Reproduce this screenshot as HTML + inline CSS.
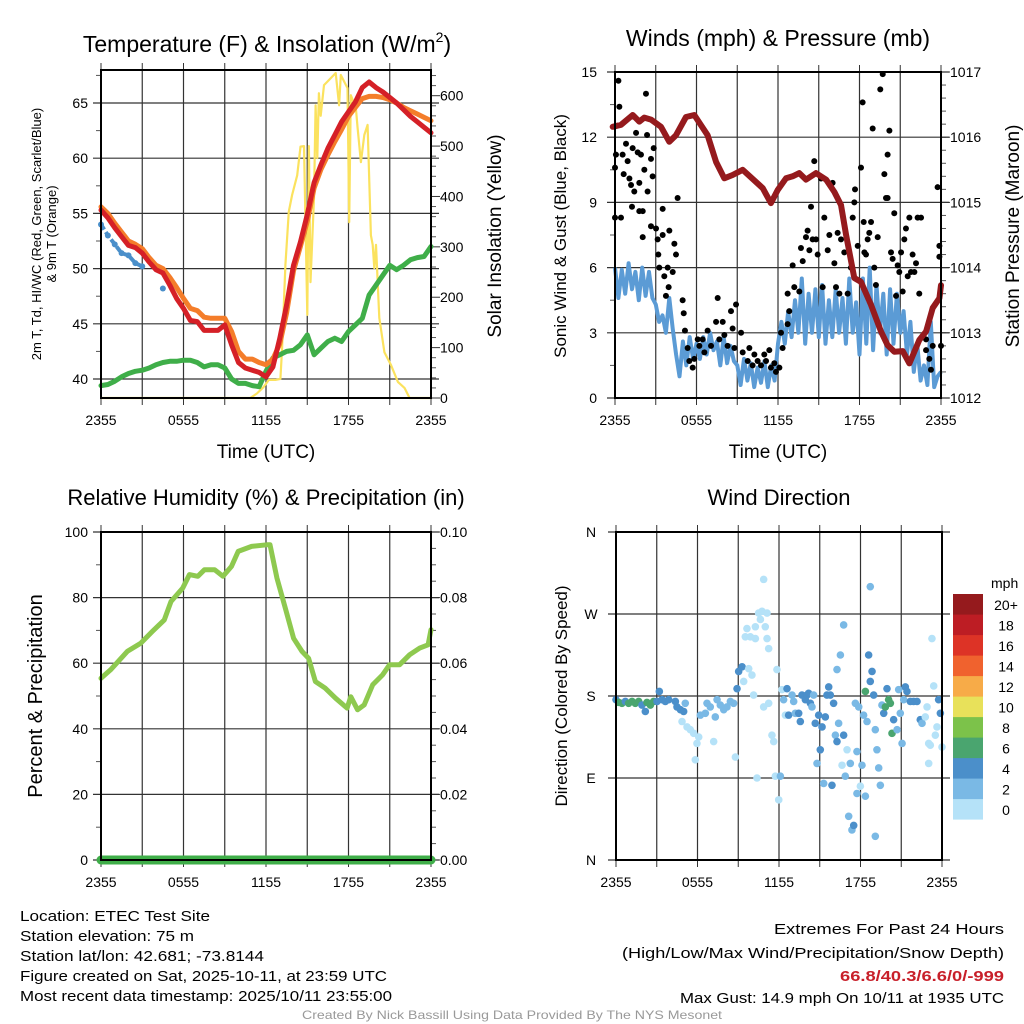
<!DOCTYPE html>
<html><head><meta charset="utf-8"><style>
html,body{margin:0;padding:0;background:#fff;}
svg{display:block;font-family:"Liberation Sans",Arial,sans-serif;}
</style></head><body>
<svg id="root" width="1024" height="1024" viewBox="0 0 1024 1024" xmlns="http://www.w3.org/2000/svg">
<g id="g1"></g>
<g id="g2"></g>
<g id="g3"></g>
<g id="g4"></g>
<g font-size="15" fill="#000">
<text x="20" y="921" textLength="190" lengthAdjust="spacingAndGlyphs">Location: ETEC Test Site</text>
<text x="20" y="941" textLength="174" lengthAdjust="spacingAndGlyphs">Station elevation: 75 m</text>
<text x="20" y="961" textLength="244" lengthAdjust="spacingAndGlyphs">Station lat/lon: 42.681; -73.8144</text>
<text x="20" y="981" textLength="367" lengthAdjust="spacingAndGlyphs">Figure created on Sat, 2025-10-11, at 23:59 UTC</text>
<text x="20" y="1001" textLength="372" lengthAdjust="spacingAndGlyphs">Most recent data timestamp: 2025/10/11 23:55:00</text>
</g>
<g font-size="15">
<text x="1004" y="934" text-anchor="end" textLength="230" lengthAdjust="spacingAndGlyphs">Extremes For Past 24 Hours</text>
<text x="1004" y="958" text-anchor="end" textLength="382" lengthAdjust="spacingAndGlyphs">(High/Low/Max Wind/Precipitation/Snow Depth)</text>
<text x="1004" y="981" text-anchor="end" fill="#c8202a" font-weight="bold" textLength="164" lengthAdjust="spacingAndGlyphs">66.8/40.3/6.6/0/-999</text>
<text x="1004" y="1003" text-anchor="end" textLength="324" lengthAdjust="spacingAndGlyphs">Max Gust: 14.9 mph On 10/11 at 1935 UTC</text>
</g>
<text x="512" y="1019" text-anchor="middle" font-size="12" fill="#999" textLength="420" lengthAdjust="spacingAndGlyphs">Created By Nick Bassill Using Data Provided By The NYS Mesonet</text>
</svg>
<script>
// ---------- DATA ----------
const tempHours = Array.from({length:49},(_,i)=>i*0.5);
const tAir = [55.3,54.6,53.7,52.9,52.1,51.9,51.4,50.6,49.9,49.6,48.5,47.3,46.4,45.3,45.2,44.4,44.4,44.4,44.9,43.1,41.5,41.0,40.8,40.6,40.2,41.1,43.7,46.7,50.3,52.4,54.9,57.8,59.4,60.9,62.1,63.3,64.2,65.1,66.4,66.9,66.4,66.0,65.5,65.0,64.4,63.8,63.3,62.8,62.3];
const t9m = [55.6,55.0,54.1,53.3,52.5,52.2,51.8,51.0,50.3,50.0,49.2,48.3,47.3,46.4,46.2,45.6,45.5,45.5,45.5,44.3,42.5,41.8,41.8,41.5,41.3,41.8,43.2,46.0,49.8,52.0,54.3,57.3,59.0,60.3,61.5,62.6,63.8,64.6,65.4,65.6,65.6,65.5,65.3,65.0,64.6,64.3,64.0,63.7,63.4];
const tDew = [39.4,39.5,39.8,40.2,40.5,40.7,40.8,41.0,41.3,41.5,41.6,41.6,41.7,41.7,41.5,41.1,41.3,41.3,41.0,40.0,39.6,39.6,39.4,39.3,40.7,41.9,42.2,42.5,42.6,43.1,44.0,42.2,42.8,43.4,43.7,43.4,44.3,44.9,45.5,47.6,48.5,49.4,50.3,49.9,50.3,50.8,51.0,51.1,52.0];
const tIndex = [54.0,53.0,52.2,51.4,51.2,50.5,50.2,null,null,48.2];
const solarHours = [0,10.85,11.34,11.83,12.2,12.68,13.05,13.17,13.41,13.66,13.9,14.27,14.51,14.76,15.0,15.12,15.24,15.49,15.61,15.73,15.85,15.98,16.22,16.71,17.07,17.32,17.44,17.93,18.05,18.17,18.54,18.66,18.9,19.15,19.39,19.51,19.63,19.76,19.88,20.0,20.24,20.61,21.1,21.59,22.07,22.44,24];
const solarVals = [0,0,9,22,36,36,38,99,264,370,403,442,499,500,165,500,230,397,581,476,605,560,621,635,645,581,641,615,349,601,575,536,468,522,542,429,323,304,258,304,159,91,65,32,20,0,0];
const pressHours = [-0.17,0.44,1.3,1.79,2.16,2.65,3.39,4.0,4.49,5.23,5.84,6.82,7.44,8.05,8.66,9.4,10.87,11.48,11.98,12.59,13.08,13.57,14.06,14.8,15.54,16.15,16.64,17.01,17.62,18.11,18.85,19.58,20.07,20.56,21.18,21.67,22.4,22.9,23.39,23.88,24.0];
const pressVals = [1016.16,1016.19,1016.34,1016.24,1016.30,1016.27,1016.16,1015.93,1016.03,1016.31,1016.34,1016.03,1015.62,1015.37,1015.42,1015.50,1015.22,1014.99,1015.19,1015.37,1015.40,1015.45,1015.35,1015.45,1015.35,1015.16,1014.96,1014.5,1013.84,1013.78,1013.43,1013.02,1012.81,1012.71,1012.72,1012.53,1012.89,1013.02,1013.38,1013.53,1013.73];
const windVals = [6.0,4.6,5.9,4.8,6.2,5.0,5.8,4.5,6.0,4.7,5.8,4.6,4.3,3.5,3.8,3.0,4.6,3.2,2.0,1.0,2.6,1.5,2.8,1.8,2.5,1.8,2.8,2.0,3.0,2.2,2.6,1.5,2.8,1.6,2.4,1.7,1.5,0.6,1.8,0.8,1.6,0.5,1.4,0.7,1.7,0.5,1.5,0.8,2.5,3.5,2.5,4.0,2.8,4.5,3.0,5.5,2.5,4.8,3.0,5.0,2.8,5.2,2.5,4.5,2.8,5.0,3.0,4.6,2.5,5.5,3.0,4.4,2.0,5.5,2.5,6.0,2.2,5.2,3.0,4.8,2.0,5.0,2.5,4.8,3.0,4.0,2.0,3.5,1.2,2.5,0.8,1.5,0.6,3.5,0.5,1.0,1.2];
const gustHours = [0.25,0.32,0,0.44,0.07,0.56,0,0.81,0.93,0.64,1.06,1.18,1.30,1.42,1.55,1.67,1.79,1.91,2.28,2.36,2.16,2.40,2.65,2.77,2.85,1.25,1.79,2.04,2.04,2.65,3.02,3.14,3.19,3.26,3.51,3.51,3.63,3.75,3.88,4.0,4.25,4.37,4.49,4.61,3.95,4.98,5.06,5.15,5.35,5.47,5.72,5.84,6.09,6.21,6.45,6.58,6.82,7.07,7.44,7.56,7.68,7.93,8.05,8.29,8.54,8.66,8.91,8.79,9.28,9.40,9.77,9.89,10.13,10.26,10.50,10.75,10.99,11.12,11.36,11.48,11.73,11.85,12.10,12.22,12.34,12.71,12.83,12.71,13.08,13.20,13.57,13.69,13.82,14.06,14.18,14.31,14.43,14.55,14.67,14.80,14.92,15.17,15.29,15.41,15.66,15.78,16.02,16.15,16.27,16.39,16.52,16.64,16.88,17.13,17.37,17.50,17.62,17.67,17.87,17.99,18.11,18.23,18.31,18.36,18.48,18.60,18.72,18.85,18.97,19.09,19.21,19.34,19.83,19.95,20.07,20.20,20.32,20.44,20.56,20.69,20.81,20.93,21.06,21.18,21.30,21.42,21.55,21.67,21.79,21.91,22.04,22.16,22.28,22.40,22.53,22.90,22.90,23.14,23.26,23.39,23.75,23.88,23.88,24.0,19.53,19.71,20.07];
const gustVals = [14.6,13.4,8.3,8.3,11.2,11.2,10.6,11.7,10.9,10.3,10.1,9.8,11.5,9.5,12.2,11.3,9.9,11.2,14.0,12.1,10.5,9.5,11.0,10.2,11.5,8.8,8.6,8.6,7.4,7.9,7.8,7.3,6.6,6.0,8.7,7.5,5.6,4.7,6.0,7.7,5.8,7.1,6.6,9.2,5.1,4.5,3.9,3.1,2.3,1.7,1.4,1.8,2.7,2.4,2.7,2.1,3.1,2.4,3.5,4.6,2.7,3.5,2.9,2.4,4.0,3.2,4.3,2.3,3.0,2.1,1.7,2.3,1.5,2.0,1.7,1.5,2.0,1.7,2.2,1.4,1.6,1.2,1.4,3.0,2.3,3.4,4.0,4.8,6.1,5.1,4.9,6.9,6.3,7.4,7.7,6.8,8.8,7.3,10.9,7.3,6.6,10.1,5.1,8.3,6.8,7.5,9.9,6.2,5.1,7.6,4.8,7.3,6.7,4.8,6.0,8.3,9.0,9.6,7.0,5.4,10.6,13.6,8.1,6.7,6.6,7.3,7.6,8.1,12.4,6.0,5.2,7.4,10.3,9.2,11.2,12.3,6.7,6.4,8.5,4.7,6.1,5.8,6.7,4.9,7.3,7.8,5.6,8.3,5.8,6.6,5.8,6.2,8.3,4.8,8.3,2.7,2.2,1.8,1.3,2.4,9.7,7.0,6.5,2.4,14.2,14.9,9.2];
const rhHours = [0,0.7,1.91,2.89,3.74,4.6,5.09,5.94,6.43,7.04,7.53,8.26,8.87,9.49,9.98,10.95,12.05,12.29,12.79,13.4,14.01,14.62,15.1,15.59,16.3,17.07,17.9,18.17,18.66,19.14,19.76,20.49,20.98,21.71,22.45,23.18,23.79,24.0];
const rhVals = [55.4,58,63.6,66.1,69.7,73.2,78.8,82.9,87,86.5,88.5,88.5,86.5,89.5,94.1,95.6,96.1,96.1,86,76.8,67.6,63.6,61.5,54.4,52.4,49.3,46.3,49.8,45.8,47.3,53.4,56.5,59.5,59.5,62.6,64.6,65.6,70.2];
const precipHours = [0,24];
const precipVals = [0,0];
const dirHours = [0,0.2,0.44,0.69,0.93,1.18,1.42,1.67,1.91,2.16,2.28,2.53,2.77,3.02,3.19,3.39,3.63,3.88,4.37,4.49,4.74,4.98,5.1,4.86,5.23,5.47,5.72,5.84,5.96,6.09,6.21,6.58,6.7,6.94,7.19,7.31,7.44,7.68,7.93,8.17,8.42,8.66,8.79,8.91,9.03,9.28,9.4,9.52,9.64,9.77,9.89,10.01,10.13,10.26,10.26,10.38,10.5,10.63,10.75,10.87,10.87,10.99,11.12,11.12,11.24,11.24,11.48,11.61,11.73,11.85,11.98,12.1,12.22,12.34,12.47,12.59,12.71,12.96,13.08,13.2,13.45,13.57,13.69,13.94,14.06,14.18,14.31,14.43,14.55,14.67,14.8,14.92,15.04,15.17,15.29,15.41,15.53,15.66,15.78,15.9,16.02,16.15,16.27,16.27,16.39,16.52,16.64,16.76,16.76,16.88,17.01,17.13,17.25,17.37,17.5,17.62,17.74,17.74,17.87,17.99,18.11,18.23,18.36,18.36,18.48,18.6,18.72,18.72,18.85,18.97,19.09,19.09,19.21,19.34,19.46,19.58,19.71,19.83,19.95,20.07,20.2,20.32,20.44,20.69,20.81,20.93,21.06,21.18,21.3,21.42,21.67,21.91,22.16,22.4,22.53,22.77,22.9,23.02,23.02,23.14,23.26,23.39,23.51,23.63,23.75,23.88,24.0];
const dirVals = [176,173,172,174,172,174,172,174,170,163,173,170,174,174,185,176,174,176,174,168,165,163,172,152,146,143,139,110,128,135,159,161,172,168,130,157,176,170,165,168,174,172,113,188,207,212,196,245,254,210,245,203,181,243,256,90,271,264,273,168,308,256,271,243,232,172,137,130,92,209,66,92,187,176,159,188,159,181,174,161,161,152,181,176,181,183,172,168,181,150,106,159,121,146,84,157,181,190,181,82,172,137,209,130,150,225,104,258,137,92,121,48,106,33,38,172,73,119,168,81,104,159,70,185,152,225,196,300,207,181,143,26,121,101,82,170,161,168,188,176,172,139,154,143,187,161,128,176,190,185,174,174,174,154,150,157,168,128,106,126,243,191,137,146,176,161,124];
const dirSpeed = [5,7,7,5,7,7,7,7,5,5,7,7,7,5,5,5,5,5,5,5,5,5,3,1,1,1,1,1,1,1,3,3,3,3,1,3,3,3,3,3,3,3,1,5,5,5,1,1,1,1,1,1,1,1,1,1,1,1,1,1,1,1,1,1,1,1,1,1,1,1,1,3,1,3,1,5,5,3,3,3,5,5,5,5,5,5,5,3,3,5,3,5,5,5,3,5,5,5,5,5,5,3,3,5,3,3,1,3,5,3,1,3,3,3,5,3,3,3,3,1,3,3,3,7,3,5,5,3,5,5,3,3,3,3,3,3,5,7,5,7,7,7,5,3,3,3,3,3,5,5,5,5,5,5,3,1,1,1,1,1,1,1,1,1,5,5,1];
const xTickLabels = ["2355","0555","1155","1755","2355"];
const dirTickLabels = ["N","E","S","W","N"];
const speedBins = ["0","2","4","6","8","10","12","14","16","18","20+"];
const speedColors = ["#b5e2f8","#7ab9e5","#4b8fca","#4aa56f","#7cc24a","#e8e15a","#f7ab48","#f0622e","#dd3326","#bd1d24","#951a1d"];

// ---------- HELPERS ----------
const NS="http://www.w3.org/2000/svg";
function mk(parent, tag, attrs){const e=document.createElementNS(NS,tag);for(const k in attrs)e.setAttribute(k,attrs[k]);parent.appendChild(e);return e;}
function scale(d0,d1,r0,r1){return v=>r0+(v-d0)*(r1-r0)/(d1-d0);}
function pathFrom(xs,ys,sx,sy){let d="",pen=false;for(let i=0;i<xs.length;i++){if(ys[i]==null){pen=false;continue;}d+=(pen?"L":"M")+sx(xs[i]).toFixed(1)+","+sy(ys[i]).toFixed(1);pen=true;}return d;}

function frame(g,P,opt){
  const sx=scale(0,24,P.x0,P.x1);
  for(let h=0;h<=24;h+=3){
    const l=mk(g,"line",{x1:sx(h),x2:sx(h),y1:P.y0,y2:P.y1,stroke:"#333","stroke-width":1.2});
    
    
    for(const yy of [P.y1,P.y0-7]){mk(g,"line",{x1:sx(h),x2:sx(h),y1:yy,y2:yy+7,stroke:"#333","stroke-width":1});}
  }
  opt.hgrid.forEach(v=>{
    const y=opt.sy(v);
    const l=mk(g,"line",{x1:P.x0-8,x2:P.x1+8,y1:y,y2:y,stroke:"#333","stroke-width":1.2});
    
    
  });
  (opt.minorL||[]).forEach(v=>{const y=opt.sy(v);mk(g,"line",{x1:P.x0-5,x2:P.x0,y1:y,y2:y,stroke:"#555"});});
  (opt.minorR||[]).forEach(v=>{const y=opt.sy2(v);mk(g,"line",{x1:P.x1,x2:P.x1+5,y1:y,y2:y,stroke:"#555"});});
  (opt.majorR||[]).forEach(v=>{const y=opt.sy2(v);mk(g,"line",{x1:P.x1,x2:P.x1+9,y1:y,y2:y,stroke:"#333"});});
  xTickLabels.forEach((t,i)=>{
    const tx=mk(g,"text",{x:sx(i*6),y:P.y1+27,"text-anchor":"middle","font-size":14});
    tx.textContent=t;
    
    
  });
  return sx;
}
function border(g,P){
  const r=mk(g,"rect",{x:P.x0,y:P.y0,width:P.x1-P.x0,height:P.y1-P.y0,fill:"none",stroke:"#000","stroke-width":2});
  
  
}
function txt(g,x,y,s,size,name,extra){
  const t=mk(g,"text",Object.assign({x:x,y:y,"font-size":size},extra||{}));
  t.textContent=s;
  
  
  return t;
}

// ---------- PANEL 1 ----------
(function(){
  const g=document.getElementById("g1");
  const P={x0:101,x1:431,y0:70,y1:398};
  const sy=scale(38.28,67.99,P.y1,P.y0);
  const sy2=scale(0,651,P.y1,P.y0);
  const majorL=[40,45,50,55,60,65];
  const minorL=[42.5,47.5,52.5,57.5,62.5,67.5];
  const majorR=[0,100,200,300,400,500,600];
  const minorR=[];for(let v=20;v<=640;v+=20)if(v%100)minorR.push(v);
  const sx=frame(g,P,{hgrid:majorL,sy:sy,sy2:sy2,minorL:minorL,minorR:minorR,majorR:majorR});
  majorL.forEach(v=>{txt(g,88,sy(v)+5,String(v),14,'left-y-tick-label',{"text-anchor":"end"});});
  majorR.forEach(v=>{txt(g,440,sy2(v)+5,String(v),14,'right-y-tick-label');});
  const series=[[tDew,"#3fae49",'dewpoint-line'],[t9m,"#f47d2a",'temp-9m-line'],[tAir,"#d52027",'temp-2m-line']];
  const s=mk(g,"path",{d:pathFrom(solarHours,solarVals,sx,sy2),fill:"none",stroke:"#fbe25e","stroke-width":2.2,"stroke-linejoin":"round"});
  
  
  series.forEach(([arr,c,n])=>{
    const p=mk(g,"path",{d:pathFrom(tempHours,arr,sx,sy),fill:"none",stroke:c,"stroke-width":5,"stroke-linejoin":"round","stroke-linecap":"round"});
    
    
  });
  tIndex.forEach((v,i)=>{if(v==null)return;
    const c=mk(g,"circle",{cx:sx(tempHours[i]),cy:sy(v),r:3,fill:"#4a8fca"});
    
    
  });
  const bi=mk(g,"path",{d:pathFrom(tempHours.slice(0,7),tIndex.slice(0,7),sx,sy),fill:"none",stroke:"#4a8fca","stroke-width":4,"stroke-dasharray":"6 3"});
  
  
  border(g,P);
  const tt=mk(g,"text",{x:267,y:52,"font-size":23,"text-anchor":"middle"});
  
  
  tt.innerHTML='Temperature (F) &amp; Insolation (W/m<tspan font-size="14" dy="-10">2</tspan><tspan dy="10">)</tspan>';
  txt(g,266,458,"Time (UTC)",19,'x-axis-title',{"text-anchor":"middle"});
  txt(g,0,0,"2m T, Td, HI/WC (Red, Green, Scarlet/Blue)",13,'left-y-axis-title',{"text-anchor":"middle",transform:"translate(41,234) rotate(-90)"});
  txt(g,0,0,"& 9m T (Orange)",13,'left-y-axis-title-line2',{"text-anchor":"middle",transform:"translate(56,234) rotate(-90)"});
  txt(g,0,0,"Solar Insolation (Yellow)",19,'right-y-axis-title',{"text-anchor":"middle",transform:"translate(501,236) rotate(-90)"});
})();

// ---------- PANEL 2 ----------
(function(){
  const g=document.getElementById("g2");
  const P={x0:615,x1:941,y0:72,y1:398};
  const sy=scale(0,15,P.y1,P.y0);
  const sy2=scale(1012,1017,P.y1,P.y0);
  const majorL=[0,3,6,9,12,15];
  const minorL=[1.5,4.5,7.5,10.5,13.5];
  const majorR=[1012,1013,1014,1015,1016,1017];
  const minorR=[];for(let v=1012.2;v<1017;v+=0.2)minorR.push(+v.toFixed(1));
  const sx=frame(g,P,{hgrid:majorL,sy:sy,sy2:sy2,minorL:minorL,minorR:minorR,majorR:majorR});
  majorL.forEach(v=>{txt(g,597,sy(v)+5,String(v),14,'left-y-tick-label',{"text-anchor":"end"});});
  majorR.forEach(v=>{txt(g,950,sy2(v)+5,String(v),14,'right-y-tick-label');});
  const wh=windVals.map((_,i)=>i*24/(windVals.length-1));
  const w=mk(g,"path",{d:pathFrom(wh,windVals,sx,sy),fill:"none",stroke:"#5b9bd5","stroke-width":4,"stroke-linejoin":"round"});
  
  
  gustHours.forEach((h,i)=>{
    const c=mk(g,"circle",{cx:sx(h),cy:sy(gustVals[i]),r:3,fill:"#000"});
    
    
  });
  const p=mk(g,"path",{d:pathFrom(pressHours,pressVals,sx,sy2),fill:"none",stroke:"#951a1d","stroke-width":6,"stroke-linejoin":"round","stroke-linecap":"round"});
  
  
  border(g,P);
  txt(g,778,46,"Winds (mph) & Pressure (mb)",23,'chart-title-winds',{"text-anchor":"middle"});
  txt(g,778,458,"Time (UTC)",19,'x-axis-title',{"text-anchor":"middle"});
  txt(g,0,0,"Sonic Wind & Gust (Blue, Black)",17,'left-y-axis-title',{"text-anchor":"middle",transform:"translate(566,236) rotate(-90)"});
  txt(g,0,0,"Station Pressure (Maroon)",19,'right-y-axis-title',{"text-anchor":"middle",transform:"translate(1019,236) rotate(-90)"});
})();

// ---------- PANEL 3 ----------
(function(){
  const g=document.getElementById("g3");
  const P={x0:101,x1:431,y0:532,y1:860};
  const sy=scale(0,100,P.y1,P.y0);
  const sy2=scale(0,0.1,P.y1,P.y0);
  const majorL=[0,20,40,60,80,100];
  const minorL=[10,30,50,70,90];
  const majorR=[0,0.02,0.04,0.06,0.08,0.1];
  const minorR=[0.005,0.01,0.015,0.025,0.03,0.035,0.045,0.05,0.055,0.065,0.07,0.075,0.085,0.09,0.095];
  const sx=frame(g,P,{hgrid:majorL,sy:sy,sy2:sy2,minorL:minorL,minorR:minorR,majorR:majorR});
  majorL.forEach(v=>{txt(g,88,sy(v)+5,String(v),14,'left-y-tick-label',{"text-anchor":"end"});});
  majorR.forEach(v=>{txt(g,440,sy2(v)+5,v.toFixed(2),14,'right-y-tick-label');});
  const r=mk(g,"path",{d:pathFrom(rhHours,rhVals,sx,sy),fill:"none",stroke:"#8ec94f","stroke-width":5,"stroke-linejoin":"round","stroke-linecap":"round"});
  
  
  const pr=mk(g,"path",{d:pathFrom(precipHours,precipVals,sx,sy2),fill:"none",stroke:"#3fae49","stroke-width":9,"stroke-linecap":"round"});
  
  
  border(g,P);
  txt(g,266,505,"Relative Humidity (%) & Precipitation (in)",22,'chart-title-humidity',{"text-anchor":"middle"});
  txt(g,0,0,"Percent & Precipitation",20,'left-y-axis-title',{"text-anchor":"middle",transform:"translate(42,696) rotate(-90)"});
})();

// ---------- PANEL 4 ----------
(function(){
  const g=document.getElementById("g4");
  const P={x0:616,x1:942,y0:532,y1:860};
  const sy=scale(0,360,P.y1,P.y0);
  const majorL=[0,90,180,270,360];
  const sx=frame(g,P,{hgrid:majorL,sy:sy});
  majorL.forEach((v,i)=>{txt(g,591,sy(v)+5,dirTickLabels[i],14,'direction-tick-label',{"text-anchor":"middle"});});
  dirHours.forEach((h,i)=>{
    const idx=Math.min(10,Math.floor(dirSpeed[i]/2));
    const c=mk(g,"circle",{cx:sx(h),cy:sy(dirVals[i]),r:3.8,fill:speedColors[idx]});
    
    
  });
  border(g,P);
  txt(g,779,505,"Wind Direction",22,'chart-title-direction',{"text-anchor":"middle"});
  txt(g,0,0,"Direction (Colored By Speed)",17,'left-y-axis-title',{"text-anchor":"middle",transform:"translate(567,696) rotate(-90)"});
  const lg=mk(g,"g",{});
  
  
  txt(lg,991,588,"mph",14,'legend-title');
  speedBins.forEach((b,i)=>{
    const y=594+(10-i)*20.5;
    const r=mk(lg,"rect",{x:953,y:y,width:30,height:20.6,fill:speedColors[i]});
    
    
    txt(lg,1006,y+16,b,14,'legend-label',{"text-anchor":"middle"});
  });
})();
</script>
</body></html>
